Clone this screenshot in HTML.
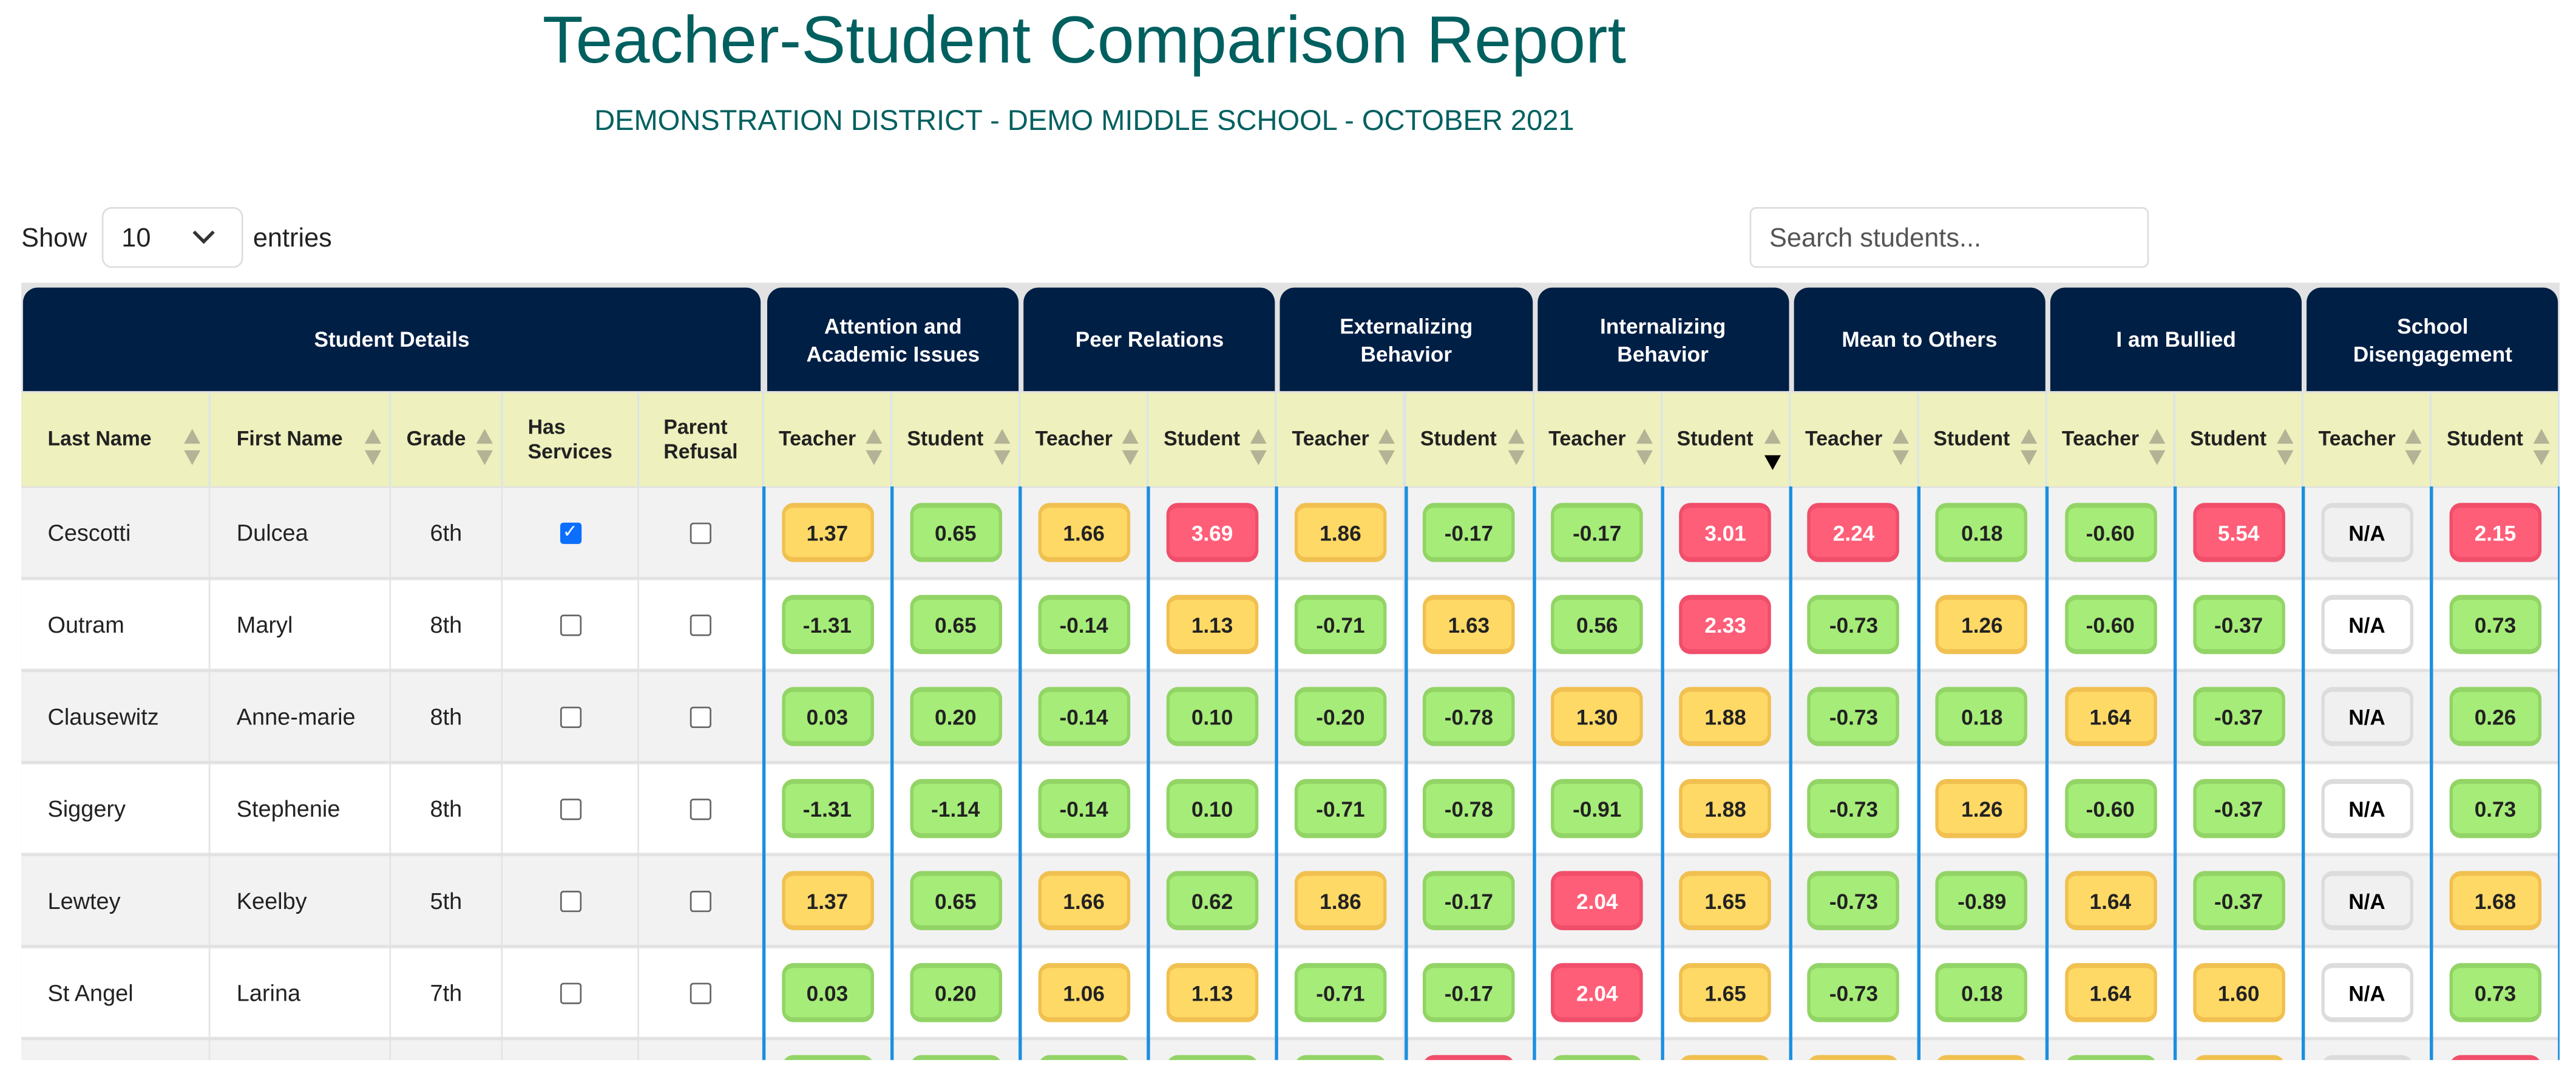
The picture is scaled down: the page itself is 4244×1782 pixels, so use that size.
<!DOCTYPE html>
<html><head><meta charset="utf-8">
<style>
html,body{margin:0;padding:0;background:#fff;width:4244px;height:1782px;overflow:hidden}
#wrap{position:absolute;left:0;top:0;width:1568px;height:658px;overflow:hidden;transform:scale(2.70663);transform-origin:0 0;font-family:"Liberation Sans",Arial,sans-serif;color:#222}
.abs{position:absolute}
#title{left:0;width:1320px;top:1px;text-align:center;font-size:40.5px;color:#00605f}
#sub{left:0;width:1320px;top:63px;text-align:center;font-size:17.4px;color:#00605f}
#show{left:13px;top:137px;font-size:16px}
#sel{left:62px;top:126px;width:86px;height:37px;border:1px solid #ddd;border-radius:6px;box-sizing:border-box;font-size:16px;padding:10px 0 0 11px}
#ent{left:154px;top:137px;font-size:16px}
#search{left:1065px;top:126px;width:243px;height:37px;border:1px solid #ddd;border-radius:4px;box-sizing:border-box;font-size:16px;padding:10px 0 0 11px;color:#555}
#tbl{left:13px;top:172px;width:1545px;height:473px;overflow:hidden;background:#e2e2e2}
.grp{position:absolute;top:3px;height:63px;background:#001f45;color:#fff;border-radius:9px 9px 0 0;font-weight:bold;font-size:13px;display:flex;align-items:center;justify-content:center;text-align:center;line-height:17px}
.sh{position:absolute;top:67px;height:57px;background:#eef0bd;font-weight:bold;font-size:12.5px;display:flex;align-items:center;border-right:1px solid #d6e4ef;box-sizing:border-box;line-height:15px}
.arr{position:absolute;right:5px;top:22px;width:0;height:0;border-left:5px solid transparent;border-right:5px solid transparent;border-bottom:9px solid #b3b396}
.arr2{position:absolute;right:5px;top:35px;width:0;height:0;border-left:5px solid transparent;border-right:5px solid transparent;border-top:9px solid #b3b396}
.row{position:absolute;left:0;width:1545px;height:54px}
.cell{position:absolute;top:0;height:54px;display:flex;align-items:center;font-size:14px;box-sizing:border-box;border-right:1px solid #e4e4e4}
.bdg{width:52px;height:30px;border-radius:7px;margin:0 auto;display:flex;align-items:center;justify-content:center;font-weight:bold;font-size:13px;border-top:3px solid;border-bottom:3px solid;border-left:2px solid;border-right:2px solid;box-sizing:content-box}
.y{background:#ffd966;border-color:#f0c050;color:#222}
.g{background:#a6ec78;border-color:#92d466;color:#222}
.r{background:#ff5e78;border-color:#f04e6a;color:#fff}
.n{border-color:#dcdcdc;color:#000}
.cb{width:11px;height:11px;border:1px solid #666;border-radius:2px;margin:0 auto;background:#fff}
.cbk{background:#0b6efd;border-color:#0b6efd;color:#fff;font-size:11px;line-height:11px;text-align:center}
.vl{position:absolute;top:124px;width:2px;height:360px;background:#1a8fe0}
</style></head><body>
<div id="wrap">
<div id="title" class="abs">Teacher-Student Comparison Report</div>
<div id="sub" class="abs">DEMONSTRATION DISTRICT - DEMO MIDDLE SCHOOL - OCTOBER 2021</div>
<div id="show" class="abs">Show</div>
<div id="sel" class="abs">10<svg style="position:absolute;left:54px;top:13px" width="14" height="9" viewBox="0 0 14 9"><path d="M1 1 L7 7 L13 1" fill="none" stroke="#333" stroke-width="2"/></svg></div>
<div id="ent" class="abs">entries</div>
<div id="search" class="abs">Search students...</div>
<div id="tbl" class="abs"></div>
</div>
<script>
const groups = ["Attention and<br>Academic Issues","Peer Relations","Externalizing<br>Behavior","Internalizing<br>Behavior","Mean to Others","I am Bullied","School<br>Disengagement"];
const lastNames = ["Cescotti","Outram","Clausewitz","Siggery","Lewtey","St Angel",""];
const firstNames = ["Dulcea","Maryl","Anne-marie","Stephenie","Keelby","Larina",""];
const grades = ["6th","8th","8th","8th","5th","7th",""];
const hasServices = [true,false,false,false,false,false,false];
const scores = [
 ["1.37","0.65","1.66","3.69","1.86","-0.17","-0.17","3.01","2.24","0.18","-0.60","5.54","N/A","2.15"],
 ["-1.31","0.65","-0.14","1.13","-0.71","1.63","0.56","2.33","-0.73","1.26","-0.60","-0.37","N/A","0.73"],
 ["0.03","0.20","-0.14","0.10","-0.20","-0.78","1.30","1.88","-0.73","0.18","1.64","-0.37","N/A","0.26"],
 ["-1.31","-1.14","-0.14","0.10","-0.71","-0.78","-0.91","1.88","-0.73","1.26","-0.60","-0.37","N/A","0.73"],
 ["1.37","0.65","1.66","0.62","1.86","-0.17","2.04","1.65","-0.73","-0.89","1.64","-0.37","N/A","1.68"],
 ["0.03","0.20","1.06","1.13","-0.71","-0.17","2.04","1.65","-0.73","0.18","1.64","1.60","N/A","0.73"],
 ["","","","","","","","","","","","","",""]
];
const colors = [
 ["y","g","y","r","y","g","g","r","r","g","g","r","n","r"],
 ["g","g","g","y","g","y","g","r","g","y","g","g","n","g"],
 ["g","g","g","g","g","g","y","y","g","g","y","g","n","g"],
 ["g","g","g","g","g","g","g","y","g","y","g","g","n","g"],
 ["y","g","y","g","y","g","r","y","g","g","y","g","n","y"],
 ["g","g","y","y","g","g","r","y","g","g","y","y","n","g"],
 ["g","g","g","g","g","r","g","y","y","y","g","y","n","r"]
];
const T=document.getElementById('tbl');
const detCols=[[0,115,"Last Name"],[115,110,"First Name"],[225,68,"Grade"],[293,83,"Has<br>Services"],[376,76,"Parent<br>Refusal"]];
const sx=452, sw=78.1;
function mk(cls,l,t,w,h,html){const d=document.createElement('div');d.className=cls;d.style.left=l+'px';if(t!==null)d.style.top=t+'px';d.style.width=w+'px';if(h)d.style.height=h+'px';if(html!==undefined)d.innerHTML=html;T.appendChild(d);return d;}
let g0=mk('grp',1,null,449,null,'Student Details');


groups.forEach((gname,i)=>{const d=mk('grp',sx+i*2*sw+2,null,2*sw-3,null,gname);

});
detCols.forEach((c,i)=>{const sortable=i<3;const d=mk('sh',c[0],null,c[1],null,'');


d.style.justifyContent=i<2?'flex-start':'center';d.style.paddingLeft=i<2?'16px':'0';
d.innerHTML=(i==2?'<span style="margin-right:12px">':'<span>')+c[2]+'</span>'+(sortable?'<div class="arr"></div><div class="arr2"></div>':'');});
for(let k=0;k<14;k++){const d=mk('sh',sx+k*sw,null,sw,null,'');


d.style.paddingLeft='9px';
const sorted=(k==7);
d.innerHTML=(k%2?'Student':'Teacher')+'<div class="arr"></div>'+(sorted?'<div class="arr2" style="border-top-color:#000;top:38px"></div>':'<div class="arr2"></div>');}
for(let r=0;r<lastNames.length;r++){
 const top=124+r*56;
 const row=document.createElement('div');row.className='row';row.style.top=(top+1)+'px';row.style.background=r%2?'#fff':'#f2f2f2';
 
 
 T.appendChild(row);
 const vals=[lastNames[r],firstNames[r],grades[r]];
 detCols.forEach((c,i)=>{const d=document.createElement('div');d.className='cell';d.style.left=c[0]+'px';d.style.width=c[1]+'px';
  if(i<2){d.style.paddingLeft='16px';d.textContent=vals[i];}
  else if(i==2){d.style.justifyContent='center';d.textContent=vals[i];}
  else {const cb=document.createElement('div');cb.className='cb'+(i==3&&hasServices[r]?' cbk':'');if(i==3&&hasServices[r])cb.textContent='✓';
   
   
   if(lastNames[r])d.appendChild(cb);}
  
  
  row.appendChild(d);});
 for(let k=0;k<14;k++){const d=document.createElement('div');d.className='cell';d.style.left=(sx+k*sw)+'px';d.style.width=sw+'px';
  
  
  const b=document.createElement('div');const c=colors[r][k];b.className='bdg '+c;
  if(c=='n')b.style.background=r%2?'#fff':'#f0f0f0';
  b.textContent=scores[r][k];
  
  
  d.appendChild(b);row.appendChild(d);}
 const sep=document.createElement('div');sep.style.cssText='position:absolute;left:0;width:1545px;height:2px;background:#e2e2e2;top:'+(top+55)+'px';T.appendChild(sep);
}
for(let k=0;k<=14;k++){const v=document.createElement('div');v.className='vl';v.style.left=(sx+k*sw-1)+'px';T.appendChild(v);}
</script>
</body></html>
